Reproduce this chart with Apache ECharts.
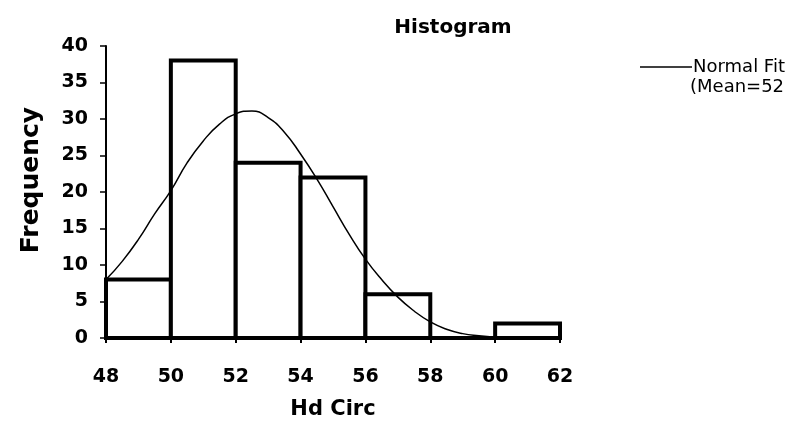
<!DOCTYPE html>
<html>
<head>
<meta charset="utf-8">
<script src="https://cdn.jsdelivr.net/npm/echarts@6/dist/echarts.min.js"></script>
<style>
  html, body { margin: 0; padding: 0; background: #fff; }
  #chart { width: 809px; height: 425px; }
</style>
</head>
<body>
<div id="chart"></div>
<script>
// histogram bins (Hd Circ) and counts
const binStarts = [48, 50, 52, 54, 56, 58, 60];
const binEnds = [50, 52, 54, 56, 58, 60, 62];
const frequencies = [8, 38, 24, 22, 6, 0, 2];

// normal fit curve
const fitX = [48, 48.5, 49, 49.5, 50, 50.5, 51, 51.5, 52, 52.5, 53, 53.5, 54, 54.5, 55, 55.5, 56, 56.5, 57, 57.5, 58, 58.5, 59, 59.5, 60, 60.5, 61];
const fitY = [8, 10.5, 13.5, 17, 20.2, 24, 27, 29.3, 30.7, 31.1, 30.2, 28.2, 25.2, 21.8, 18, 14.2, 10.8, 8, 5.6, 3.7, 2.2, 1.2, 0.6, 0.3, 0.1, 0, 0];

const xTicks = [48, 50, 52, 54, 56, 58, 60, 62];

const boldFont = 'DejaVu Sans, sans-serif';
const chart = echarts.init(document.getElementById('chart'));

const option = {
  animation: false,
  title: {
    text: 'Histogram',
    left: 448,
    top: 13,
    textAlign: 'center',
    textStyle: { fontFamily: boldFont, fontSize: 20, fontWeight: 'bold', color: '#000' }
  },
  legend: {
    data: ['Normal Fit'],
    left: 635,
    top: 53,
    icon: 'rect',
    itemWidth: 52,
    itemHeight: 1.5,
    itemGap: 0,
    textStyle: { fontFamily: boldFont, fontSize: 18, color: '#000', padding: [0, 0, 0, -4] }
  },
  graphic: [{
    type: 'text',
    left: 690,
    top: 78,
    style: { text: '(Mean=52', fontFamily: boldFont, fontSize: 18, fill: '#000' }
  }],
  grid: { left: 106, right: 249, top: 46, bottom: 87 },
  xAxis: {
    type: 'value',
    min: 48,
    max: 62,
    interval: 2,
    name: 'Hd Circ',
    nameLocation: 'middle',
    nameGap: 61,
    nameTextStyle: { fontFamily: boldFont, fontSize: 21, fontWeight: 'bold', color: '#000' },
    axisLine: { lineStyle: { color: '#000', width: 2 } },
    axisTick: { show: true, length: 5, lineStyle: { color: '#000', width: 2 } },
    axisLabel: {
      margin: 30,
      fontFamily: boldFont, fontSize: 19, fontWeight: 'bold', color: '#000',
      customValues: xTicks
    },
    splitLine: { show: false }
  },
  yAxis: {
    type: 'value',
    min: 0,
    max: 40,
    interval: 5,
    name: 'Frequency',
    nameLocation: 'middle',
    nameGap: 62,
    nameTextStyle: {
      fontFamily: boldFont, fontSize: 25, fontWeight: 'bold', color: '#000',
      padding: [0, 0, 0, 24]
    },
    axisLine: { show: true, lineStyle: { color: '#000', width: 2 } },
    axisTick: { show: true, length: 6, lineStyle: { color: '#000', width: 1.5 } },
    axisLabel: { margin: 18, fontFamily: boldFont, fontSize: 19, fontWeight: 'bold', color: '#000' },
    splitLine: { show: false }
  },
  series: [
    {
      name: 'Counts',
      type: 'custom',
      data: binStarts.map((s, i) => [s, binEnds[i], frequencies[i]]),
      encode: { x: [0, 1], y: 2 },
      renderItem: function (params, api) {
        const topLeft = api.coord([api.value(0), api.value(2)]);
        const bottomRight = api.coord([api.value(1), 0]);
        return {
          type: 'rect',
          shape: {
            x: topLeft[0],
            y: topLeft[1],
            width: bottomRight[0] - topLeft[0],
            height: bottomRight[1] - topLeft[1]
          },
          style: { fill: '#fff', stroke: '#000', lineWidth: 4 }
        };
      },
      z: 2
    },
    {
      name: 'Normal Fit',
      type: 'line',
      smooth: true,
      showSymbol: false,
      data: fitX.map((x, i) => [x, fitY[i]]),
      lineStyle: { color: '#000', width: 1.5 },
      itemStyle: { color: '#000' },
      z: 3
    }
  ]
};
chart.setOption(option);
</script>
</body>
</html>
